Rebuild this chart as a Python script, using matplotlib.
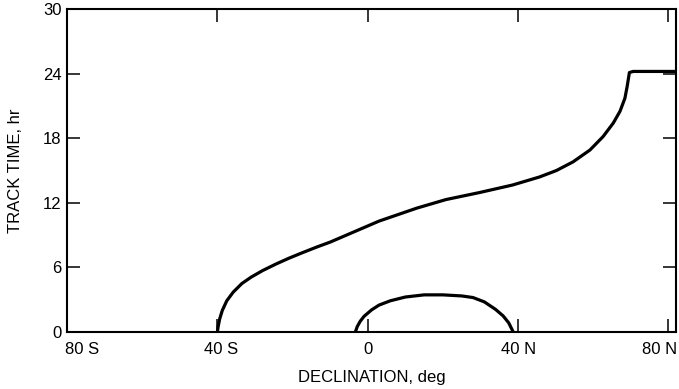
import matplotlib
matplotlib.use("Agg")
import matplotlib.pyplot as plt
from matplotlib.transforms import ScaledTranslation

plt.rcParams['font.family'] = ['Liberation Sans', 'DejaVu Sans']

# Upper curve: track time (hr) vs declination (deg)
dec_upper = [-40.0, -39.8, -39.4, -38.7, -37.5, -35.8, -33.5, -31.0, -28.0, -24.5,
             -21.0, -17.5, -13.5, -10.0, -6.0, -2.0, 3.0, 8.0, 13.0, 20.8,
             29.7, 38.5, 45.7, 50.2, 54.6, 59.1, 62.6, 65.3, 67.1, 68.4,
             69.0, 69.6, 70.6, 82.0]
hr_upper = [0.0, 0.5, 1.2, 2.0, 2.9, 3.7, 4.5, 5.1, 5.7, 6.3,
            6.85, 7.35, 7.9, 8.35, 8.95, 9.55, 10.3, 10.9, 11.5, 12.3,
            12.95, 13.65, 14.4, 15.0, 15.8, 16.9, 18.15, 19.4, 20.5, 21.7,
            22.8, 24.1, 24.2, 24.2]

# Lower curve
dec_lower = [-3.3, -2.8, -2.0, -1.0, 1.0, 3.0, 6.0, 10.0, 15.0, 20.0, 25.0, 28.0,
             31.0, 34.0, 36.0, 37.5, 38.7]
hr_lower = [0, 0.5, 1.0, 1.45, 2.05, 2.5, 2.9, 3.25, 3.45, 3.45, 3.35, 3.2,
            2.8, 2.1, 1.5, 0.85, 0]

xticks = [-80, -40, 0, 40, 80]
xticklabels = ['80 S', '40 S', '0', '40 N', '80 N']
yticks = [0, 6, 12, 18, 24, 30]

fig = plt.figure(figsize=(6.79, 3.89), dpi=100)
ax = fig.add_axes([0.0987, 0.1465, 0.8969, 0.8304])

ax.plot(dec_upper, hr_upper, color='black', lw=2.3, solid_joinstyle='round', zorder=3)
ax.plot(dec_lower, hr_lower, color='black', lw=2.3, solid_joinstyle='round', zorder=3)

ax.set_xlim(-80, 82)
ax.set_ylim(0, 30)
ax.set_xticks(xticks)
ax.set_xticklabels(xticklabels)
ax.set_yticks(yticks)

for s in ax.spines.values():
    s.set_linewidth(1.5)

ax.tick_params(axis='both', direction='in', length=9.5, width=1.1, labelsize=12,
               top=True, right=True)
ax.tick_params(axis='x', pad=7)
ax.tick_params(axis='y', pad=4)

labels = ax.get_xticklabels()
labels[0].set_horizontalalignment('left')
labels[0].set_transform(labels[0].get_transform() + ScaledTranslation(-0.02, 0, fig.dpi_scale_trans))
labels[1].set_transform(labels[1].get_transform() + ScaledTranslation(0.04, 0, fig.dpi_scale_trans))
labels[-1].set_transform(labels[-1].get_transform() + ScaledTranslation(-0.09, 0, fig.dpi_scale_trans))

ax.set_xlabel('DECLINATION, deg', fontsize=12, va='center')
ax.set_ylabel('TRACK TIME, hr', fontsize=12, va='center')
ax.xaxis.set_label_coords((372 - 67) / 609, -(377 - 332) / 323)
ax.yaxis.set_label_coords((15 - 67) / 609, 0.5)

fig.savefig('out.png', dpi=100)
